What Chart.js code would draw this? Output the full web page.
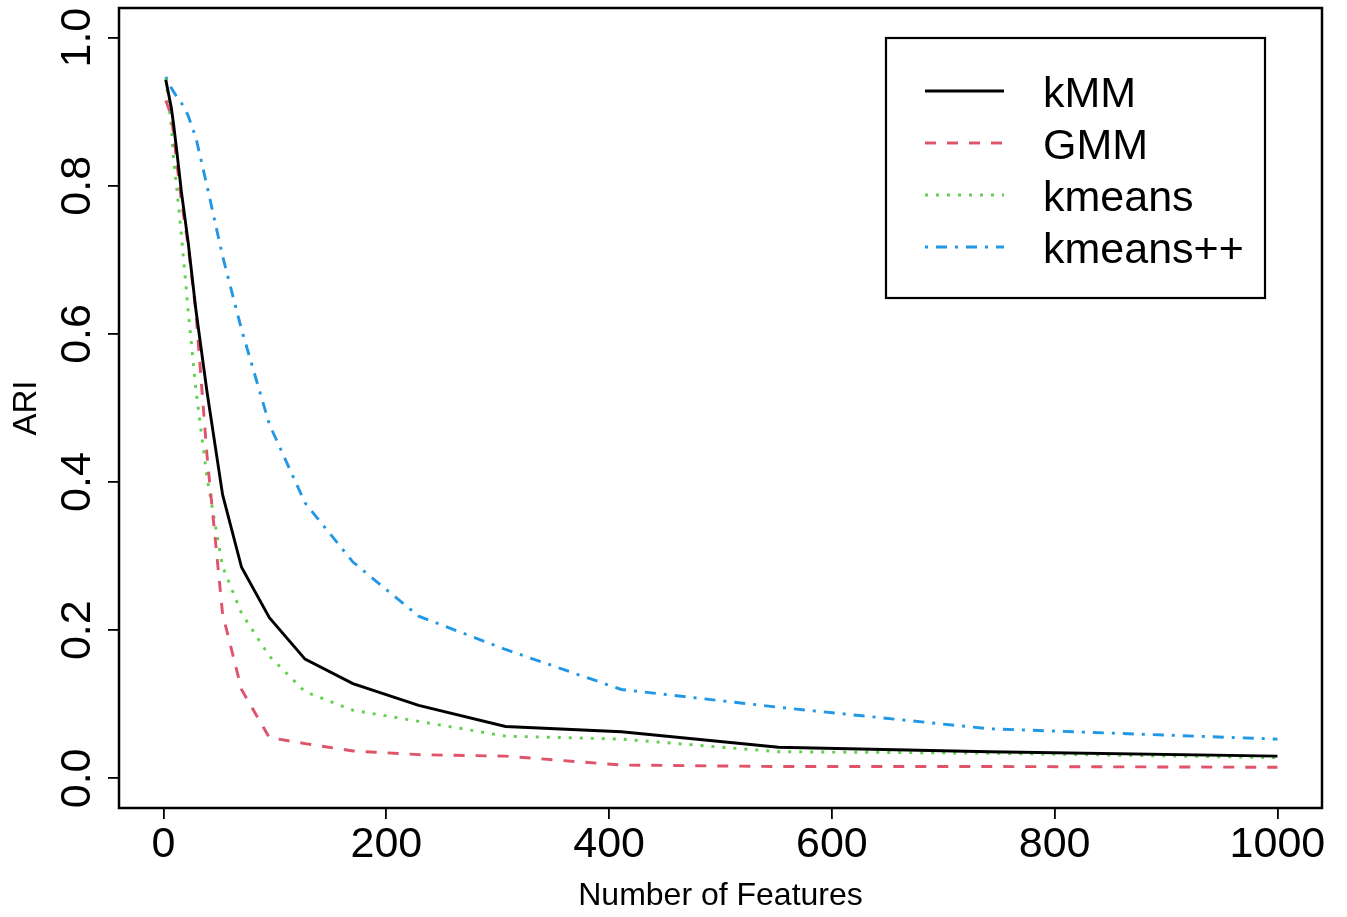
<!DOCTYPE html>
<html>
<head>
<meta charset="utf-8">
<script src="https://cdn.jsdelivr.net/npm/chart.js@4/dist/chart.umd.min.js"></script>
<style>
  html, body { margin: 0; padding: 0; background: #ffffff; }
  #wrap { width: 1347px; height: 917px; position: relative; }
</style>
</head>
<body>
<div id="wrap"><canvas id="c" width="1347" height="917"></canvas></div>
<script>
// ---- data ----
const features = [2, 7, 9, 12, 16, 22, 29, 39, 53, 70, 95, 127, 170, 229, 307, 411, 552, 741, 1000];
const kMM      = [0.943, 0.905, 0.883, 0.845, 0.792, 0.725, 0.633, 0.522, 0.383, 0.285, 0.217, 0.161, 0.128, 0.0985, 0.070, 0.063, 0.042, 0.036, 0.030];
const GMM      = [0.915, 0.895, 0.870, 0.830, 0.780, 0.720, 0.630, 0.436, 0.222, 0.120, 0.055, 0.047, 0.037, 0.032, 0.030, 0.018, 0.016, 0.016, 0.015];
const kmeans   = [0.945, 0.880, 0.835, 0.795, 0.734, 0.633, 0.525, 0.406, 0.286, 0.223, 0.165, 0.117, 0.092, 0.077, 0.057, 0.053, 0.036, 0.034, 0.028];
const kmeansPP = [0.947, 0.932, 0.927, 0.920, 0.912, 0.895, 0.865, 0.800, 0.705, 0.606, 0.478, 0.372, 0.292, 0.219, 0.174, 0.120, 0.096, 0.067, 0.053];
const seriesNames = ['kMM', 'GMM', 'kmeans', 'kmeans++'];
const xTicks = [0, 200, 400, 600, 800, 1000];
const yTicks = [0.0, 0.2, 0.4, 0.6, 0.8, 1.0];
const xTitle = 'Number of Features';
const yTitle = 'ARI';

const FONT = "'Liberation Sans', Arial, Helvetica, sans-serif";

const toPts = (ys) => features.map((x, i) => ({ x: x, y: ys[i] }));

const styles = [
  { color: '#000000', dash: [] },
  { color: '#DF536B', dash: [11, 11] },
  { color: '#61D04F', dash: [3, 8] },
  { color: '#2297E6', dash: [3, 8, 11, 8] }
];
const allSeries = [kMM, GMM, kmeans, kmeansPP];

const datasets = allSeries.map((s, i) => ({
  label: seriesNames[i],
  data: toPts(s),
  borderColor: styles[i].color,
  backgroundColor: styles[i].color,
  borderDash: styles[i].dash,
  borderWidth: 2.9,
  borderCapStyle: 'butt',
  pointRadius: 0,
  pointHoverRadius: 0,
  showLine: true,
  tension: 0,
  fill: false
}));

const boxAndLabels = {
  id: 'boxAndLabels',
  afterDraw(chart) {
    const ctx = chart.ctx;
    const a = chart.chartArea;
    const xs = chart.scales.x, ys = chart.scales.y;
    ctx.save();
    // plot frame
    ctx.strokeStyle = '#000';
    ctx.lineWidth = 2.5;
    ctx.setLineDash([]);
    ctx.strokeRect(a.left, a.top, a.right - a.left, a.bottom - a.top);

    // x tick labels
    ctx.fillStyle = '#000';
    ctx.font = '43px ' + FONT;
    ctx.textAlign = 'center';
    ctx.textBaseline = 'alphabetic';
    xTicks.forEach(v => {
      ctx.fillText(String(v), xs.getPixelForValue(v), a.bottom + 49);
    });
    // y tick labels (rotated)
    yTicks.forEach(v => {
      ctx.save();
      ctx.translate(a.left - 29, ys.getPixelForValue(v));
      ctx.rotate(-Math.PI / 2);
      ctx.fillText(v.toFixed(1), 0, 0);
      ctx.restore();
    });

    // legend
    const lx = a.right - 436, ly = a.top + 30, lw = 379, lh = 260;
    ctx.lineWidth = 2.2;
    ctx.strokeRect(lx, ly, lw, lh);
    chart.data.datasets.forEach((d, i) => {
      const rowY = ly + 53 + i * 52;
      ctx.beginPath();
      ctx.strokeStyle = d.borderColor;
      ctx.lineWidth = d.borderWidth;
      ctx.lineCap = 'butt';
      ctx.setLineDash(d.borderDash);
      ctx.moveTo(lx + 39, rowY);
      ctx.lineTo(lx + 118, rowY);
      ctx.stroke();
      ctx.setLineDash([]);
      ctx.fillStyle = '#000';
      ctx.font = '43px ' + FONT;
      ctx.textAlign = 'left';
      ctx.textBaseline = 'alphabetic';
      ctx.fillText(d.label, lx + 157, rowY + 15.5);
    });
    ctx.restore();
  }
};

new Chart(document.getElementById('c'), {
  type: 'scatter',
  data: { datasets: datasets },
  options: {
    responsive: false,
    animation: false,
    devicePixelRatio: 1,
    layout: { padding: { top: 8, right: 25, left: 0, bottom: 0 } },
    plugins: {
      legend: { display: false },
      tooltip: { enabled: false }
    },
    scales: {
      x: {
        type: 'linear',
        min: -40,
        max: 1040,
        afterBuildTicks: (s) => { s.ticks = xTicks.map(v => ({ value: v })); },
        afterFit: (s) => { s.height = 109; s.paddingLeft = 0; s.paddingRight = 0; },
        border: { display: false },
        grid: { drawOnChartArea: false, drawTicks: true, tickLength: 11, color: '#000', lineWidth: 1.8 },
        ticks: { color: 'rgba(0,0,0,0)', font: { size: 1, family: FONT }, padding: 0, maxRotation: 0 },
        title: { display: true, text: xTitle, color: '#000', font: { size: 32, family: FONT }, padding: { top: 0, bottom: 2 } }
      },
      y: {
        type: 'linear',
        min: -0.04,
        max: 1.04,
        afterBuildTicks: (s) => { s.ticks = yTicks.map(v => ({ value: v })); },
        afterFit: (s) => { s.width = 119; s.paddingTop = 0; s.paddingBottom = 0; },
        border: { display: false },
        grid: { drawOnChartArea: false, drawTicks: true, tickLength: 11, color: '#000', lineWidth: 1.8 },
        ticks: { color: 'rgba(0,0,0,0)', font: { size: 1, family: FONT }, padding: 0 },
        title: { display: true, text: yTitle, color: '#000', font: { size: 33, family: FONT }, padding: { top: 7, bottom: 0 } }
      }
    }
  },
  plugins: [boxAndLabels]
});
</script>
</body>
</html>
